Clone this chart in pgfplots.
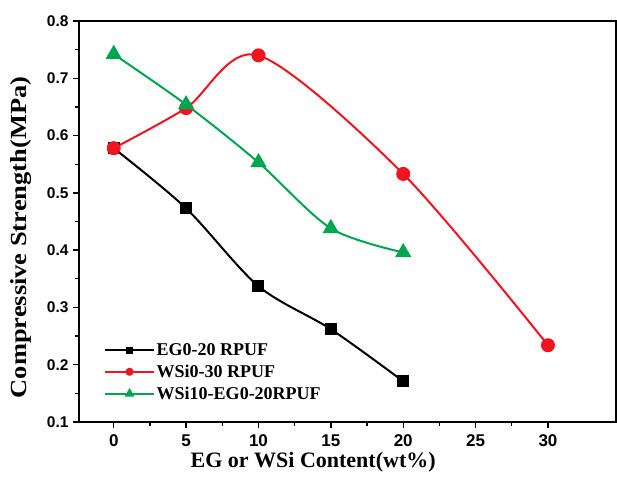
\documentclass[border=0pt]{standalone}
\usepackage{pgfplots}
\pgfplotsset{compat=1.18}
\usepackage{fontspec}
\setmainfont{Liberation Serif}
\newfontfamily\arialfont{Liberation Sans}
\newfontfamily\ylabfont[FakeStretch=1.15]{Liberation Serif}
\definecolor{cgreen}{RGB}{0,165,80}
\definecolor{cred}{RGB}{240,20,30}
\begin{document}
\begin{tikzpicture}
\begin{axis}[
  scale only axis,
  width=537pt, height=401pt,
  xmin=-2.4, xmax=34.7, ymin=0.1, ymax=0.8,
  xtick={0,5,...,30}, ytick={0.1,0.2,...,0.8},
  minor x tick num=1, minor y tick num=1,
  tick pos=left, tick align=outside,
  major tick length=6pt, minor tick length=4pt,
  axis line style={line width=1.6pt},
  every tick/.style={line width=1.4pt, black},
  /pgf/number format/assume math mode=true,
  /pgf/number format/fixed,
  /pgf/number format/precision=1,
  yticklabel style={/pgf/number format/fixed zerofill, font=\arialfont\bfseries\fontsize{15.5}{15.5}\selectfont, xshift=-1pt},
  xticklabel style={font=\arialfont\bfseries\fontsize{17}{17}\selectfont, yshift=-3pt},
  xlabel={EG or WSi Content(wt\%)},
  ylabel={Compressive Strength(MPa)},
  xlabel style={font=\bfseries\fontsize{22}{22}\selectfont, at={(axis description cs:0.436,-0.1)}, anchor=center},
  ylabel style={font=\ylabfont\bfseries\fontsize{23}{23}\selectfont, at={(axis description cs:-0.108,0.46)}, anchor=center},
  legend style={draw=none, fill=none, at={(0.045,0.045)}, anchor=south west,
    font=\bfseries\fontsize{18}{18}\selectfont, row sep=4pt, inner sep=1pt},
  legend cell align=left,
  legend image code/.code={\draw[mark repeat=2,mark phase=2,#1] plot coordinates {(0cm,0cm) (0.85cm,0cm) (1.7cm,0cm)};},
  legend image post style={line width=2pt, /tikz/every mark/.append style={scale=0.5}},
]
\addplot[black, line width=2pt, smooth, tension=0.5, mark=square*, mark size=5pt, mark options={fill=black}]
  coordinates {(0,0.578) (5,0.473) (10,0.337) (15,0.262) (20,0.171)};
\addlegendentry{EG0-20 RPUF}
\addplot[cred, line width=2pt, smooth, tension=0.5, mark=*, mark size=6pt, mark options={fill=cred}]
  coordinates {(0,0.578) (5,0.648) (10,0.740) (20,0.533) (30,0.234)};
\addlegendentry{WSi0-30 RPUF}
\addplot[cgreen, line width=2pt, smooth, tension=0.5, mark=triangle*, mark size=7.5pt, mark options={fill=cgreen}]
  coordinates {(0,0.742) (5,0.654) (10,0.553) (15,0.438) (20,0.396)};
\addlegendentry{WSi10-EG0-20RPUF}
\end{axis}
\pgfresetboundingbox
\useasboundingbox ([xshift=-79pt,yshift=-55pt]current axis.south west) rectangle ([xshift=1pt,yshift=21pt]current axis.north east);
\end{tikzpicture}
\end{document}
